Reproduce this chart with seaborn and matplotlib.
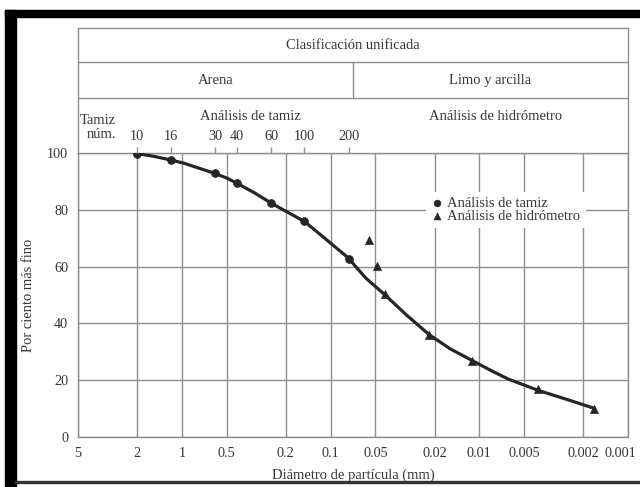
import matplotlib
matplotlib.use("Agg")
import matplotlib.pyplot as plt
import matplotlib.transforms as mtransforms
import seaborn as sns
import pandas as pd
from matplotlib.ticker import NullLocator
from matplotlib.patches import Rectangle

# ---------------- data ----------------
sieve_numbers = ["10", "16", "30", "40", "60", "100", "200"]
sieve_diam = [2.0, 1.18, 0.6, 0.425, 0.25, 0.15, 0.075]
sieve_pct = [99.8, 97.5, 92.8, 89.3, 82.3, 75.9, 62.8]

hydro_diam = [0.0550, 0.0490, 0.0428, 0.0217, 0.01115, 0.00401, 0.00169]
hydro_pct = [69.2, 60.1, 50.3, 35.9, 26.8, 16.8, 9.8]

curve_diam = [2.0, 1.536, 1.18, 0.968, 0.6, 0.5, 0.425, 0.326, 0.25, 0.2187,
              0.15, 0.1126, 0.075, 0.0686, 0.0581, 0.0428, 0.03065, 0.0217,
              0.01575, 0.01115, 0.00848, 0.00639, 0.00401, 0.00243, 0.00169]
curve_pct = [99.8, 98.8, 97.5, 96.4, 92.8, 91.2, 89.3, 86.0, 82.3, 80.6,
             75.9, 70.5, 62.8, 60.3, 56.0, 49.9, 42.8, 36.0,
             31.1, 26.9, 23.6, 20.4, 16.4, 12.8, 10.1]

xtick_vals = [5, 2, 1, 0.5, 0.2, 0.1, 0.05, 0.02, 0.01, 0.005, 0.002, 0.001]
xtick_labels = ["5", "2", "1", "0.5", "0.2", "0.1", "0.05", "0.02", "0.01", "0.005", "0.002", "0.001"]
ytick_vals = [0, 20, 40, 60, 80, 100]

title_top = "Clasificación unificada"
group_left = "Arena"
group_right = "Limo y arcilla"
sub_left = "Análisis de tamiz"
sub_right = "Análisis de hidrómetro"
legend_sieve = "Análisis de tamiz"
legend_hydro = "Análisis de hidrómetro"
xlabel = "Diámetro de partícula (mm)"
ylabel = "Por ciento más fino"

# ---------------- style ----------------
sns.set_theme(style="white")
plt.rcParams["font.family"] = ["Liberation Serif", "DejaVu Serif"]
GRID = "#8e8e8e"
TXT = "#363636"
INK = "#262626"
FS = 10.5
TFS = 10.3

fig = plt.figure(figsize=(6.4, 4.87), dpi=100)
fig.patch.set_facecolor("white")
W, H = 640.0, 487.0
ax = fig.add_axes([78 / W, 50 / H, 550 / W, 284 / H])

curve_df = pd.DataFrame({"d": curve_diam, "p": curve_pct})
sieve_df = pd.DataFrame({"d": sieve_diam, "p": sieve_pct})
hydro_df = pd.DataFrame({"d": hydro_diam, "p": hydro_pct})

sns.lineplot(data=curve_df, x="d", y="p", sort=False, color=INK, lw=2.3,
             legend=False, ax=ax, zorder=3)
sns.scatterplot(data=sieve_df, x="d", y="p", marker="o", color=INK, s=32,
                edgecolor=INK, linewidth=0.5, label=legend_sieve, ax=ax, zorder=4)
sns.scatterplot(data=hydro_df, x="d", y="p", marker="^", color=INK, s=34,
                edgecolor=INK, linewidth=0.5, label=legend_hydro, ax=ax, zorder=4)

ax.set_xscale("log")
ax.set_xlim(5, 0.001)
ax.set_ylim(0, 100)
ax.set_xticks(xtick_vals)
ax.set_xticklabels(xtick_labels)
ax.xaxis.set_minor_locator(NullLocator())
ax.set_yticks(ytick_vals)
ax.tick_params(axis="both", length=0, labelsize=TFS, labelcolor=TXT)
ax.tick_params(axis="x", pad=7)
ax.tick_params(axis="y", pad=7)
ax.grid(True, color=GRID, lw=1.0)
for s in ax.spines.values():
    s.set_color(GRID)
    s.set_linewidth(1.0)
ax.set_xlabel(xlabel, fontsize=FS, color=TXT, labelpad=6)
ax.set_ylabel(ylabel, fontsize=FS, color=TXT, labelpad=9)

# last tick label sits left of the right border, as in the picture
last = ax.get_xticklabels()[-1]
last.set_transform(last.get_transform() +
                   mtransforms.ScaledTranslation(-8 / 100.0, 0, fig.dpi_scale_trans))

leg = ax.legend(loc="upper left", bbox_to_anchor=(0.62, 0.89), frameon=True,
                facecolor="white", edgecolor="none", framealpha=1.0,
                fontsize=FS, handlelength=0.7, handletextpad=0.4,
                labelspacing=0.0, borderpad=0.35, markerscale=0.85)
for t in leg.get_texts():
    t.set_color(TXT)

# sieve numbers on top
ax2 = ax.twiny()
ax2.set_xscale("log")
ax2.set_xlim(ax.get_xlim())
ax2.set_xticks(sieve_diam)
ax2.set_xticklabels(sieve_numbers)
ax2.xaxis.set_minor_locator(NullLocator())
ax2.tick_params(axis="x", direction="out", length=4, width=1.0, color=GRID,
                pad=3, labelsize=TFS, labelcolor=TXT)
ax2.grid(False)
for s in ax2.spines.values():
    s.set_visible(False)

# header table
hax = fig.add_axes([78 / W, 334 / H, 550 / W, 125 / H])
hax.set_xlim(0, 1)
hax.set_ylim(0, 1)
hax.set_xticks([])
hax.set_yticks([])
hax.patch.set_alpha(0)
for k, s in hax.spines.items():
    s.set_color(GRID)
    s.set_linewidth(1.0)
hax.spines["bottom"].set_visible(False)
y1 = (153 - 62) / 125.0
y2 = (153 - 98) / 125.0
hax.plot([0, 1], [y1, y1], color=GRID, lw=1.0)
hax.plot([0, 1], [y2, y2], color=GRID, lw=1.0)
hax.plot([0.5, 0.5], [y2, y1], color=GRID, lw=1.0)
hax.text(0.5, (153 - 45) / 125.0, title_top, ha="center", va="center", fontsize=FS, color=TXT)
hax.text(0.25, (153 - 80) / 125.0, group_left, ha="center", va="center", fontsize=FS, color=TXT)
hax.text(0.75, (153 - 80) / 125.0, group_right, ha="center", va="center", fontsize=FS, color=TXT)
hax.text(0.313, (153 - 117) / 125.0, sub_left, ha="center", va="center", fontsize=FS, color=TXT)
hax.text(0.76, (153 - 117) / 125.0, sub_right, ha="center", va="center", fontsize=FS, color=TXT)
hax.text(0.004, (153 - 121) / 125.0, "Tamiz", ha="left", va="center", fontsize=FS, color=TXT)
hax.text(0.016, (153 - 135) / 125.0, "núm.", ha="left", va="center", fontsize=FS, color=TXT)

# black frame of the scanned picture
fig.patches.append(Rectangle((5 / W, 0), 11 / W, 477 / H, transform=fig.transFigure,
                             color="black", zorder=10))
fig.patches.append(Rectangle((5 / W, 470 / H), 635 / W, 7 / H, transform=fig.transFigure,
                             color="black", zorder=10))
fig.patches.append(Rectangle((15 / W, 4 / H), 625 / W, 2 / H, transform=fig.transFigure,
                             color="#333333", zorder=10))

fig.savefig("out.png", dpi=100)
